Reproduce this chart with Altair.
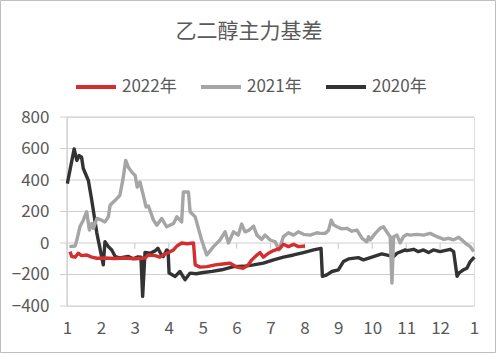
import altair as alt
import pandas as pd

# ---- data (month position, basis value) ----
m2020 = [1.01, 1.21, 1.29, 1.36, 1.43, 1.48, 1.63, 1.73, 1.88, 2.07, 2.12, 2.22, 2.32, 2.42,
         2.56, 2.80, 2.95, 3.09, 3.18, 3.23, 3.30, 3.45, 3.60, 3.68, 3.77, 3.84, 3.94, 3.98,
         4.01, 4.19, 4.33, 4.48, 4.63, 4.81, 5.02, 5.28, 5.56, 5.91, 6.20, 6.50, 6.79, 7.09,
         7.38, 7.68, 7.97, 8.27, 8.49, 8.53, 8.66, 8.81, 9.00, 9.15, 9.30, 9.59, 9.74, 9.99,
         10.28, 10.41, 10.63, 10.73, 10.97, 11.02, 11.22, 11.36, 11.51, 11.66, 11.80, 12.00,
         12.30, 12.40, 12.50, 12.56, 12.69, 12.79, 12.89, 13.01]
v2020 = [377, 597, 524, 555, 545, 473, 397, 271, 63, -139, 8, -23, -44, -86,
         -95, -85, -100, -88, -90, -339, -60, -65, -50, -33, -70, -86, -44, -50,
         -191, -212, -181, -233, -191, -195, -187, -180, -170, -150, -148, -139, -128, -107,
         -90, -76, -61, -44, -34, -212, -202, -181, -170, -118, -101, -93, -107, -90,
         -69, -75, -86, -65, -44, -48, -40, -55, -44, -61, -44, -55,
         -40, -55, -212, -190, -170, -160, -118, -90]

m2021 = [1.07, 1.24, 1.29, 1.38, 1.48, 1.58, 1.66, 1.73, 1.78, 1.88, 2.02, 2.12, 2.22, 2.27,
         2.42, 2.56, 2.66, 2.73, 2.81, 2.91, 3.01, 3.07, 3.15, 3.25, 3.33, 3.40, 3.55, 3.65,
         3.79, 3.94, 4.14, 4.24, 4.38, 4.43, 4.58, 4.63, 4.78, 4.97, 5.12, 5.32, 5.51, 5.66,
         5.76, 5.91, 6.05, 6.15, 6.25, 6.37, 6.50, 6.60, 6.74, 6.84, 6.99, 7.14, 7.25, 7.38,
         7.53, 7.68, 7.82, 7.97, 8.17, 8.37, 8.46, 8.61, 8.71, 8.79, 8.86, 8.96, 9.10, 9.25,
         9.40, 9.55, 9.70, 9.84, 9.89, 9.94, 10.09, 10.23, 10.33, 10.43, 10.53, 10.58, 10.63,
         10.73, 10.82, 10.92, 11.02, 11.12, 11.32, 11.51, 11.71, 11.91, 12.11, 12.25, 12.40,
         12.55, 12.64, 12.74, 12.89, 12.99]
v2021 = [-23, -19, 19, 103, 145, 198, 82, 124, 93, 156, 145, 134, 166, 240,
         271, 303, 418, 524, 481, 450, 429, 355, 387, 303, 229, 235, 145, 113,
         156, 103, 124, 166, 134, 324, 324, 198, 166, 19, -76, -23, 19, 71,
         0, 71, 50, 120, 71, 82, 107, 50, 23, 50, 19, 8, -44, 40,
         65, 50, 71, 55, 50, 65, 61, 61, 80, 145, 115, 103, 90, 93,
         75, 82, 29, 8, 40, 20, 61, 93, 103, 70, 40, -254, 40,
         50, 0, 40, 55, 50, 55, 50, 61, 40, 23, 30, 20,
         36, 20, 0, -23, -55]

m2022 = [1.09, 1.14, 1.24, 1.33, 1.43, 1.58, 1.73, 1.88, 2.12, 2.42, 2.71, 3.01, 3.30, 3.40,
         3.60, 3.74, 3.89, 3.99, 4.14, 4.24, 4.38, 4.54, 4.73, 4.78, 4.92, 5.13, 5.37, 5.66,
         5.81, 6.01, 6.20, 6.34, 6.45, 6.60, 6.69, 6.79, 6.94, 7.09, 7.28, 7.38, 7.53, 7.68,
         7.82, 8.02]
v2022 = [-55, -86, -90, -65, -80, -76, -90, -97, -95, -98, -95, -100, -95, -76,
         -80, -90, -70, -61, -44, -19, 0, -5, 0, -139, -153, -150, -139, -132,
         -128, -153, -160, -140, -107, -76, -61, -90, -65, -48, -34, -8, -23, -8,
         -23, -19]

title_text = "乙二醇主力基差"
series_names = ["2022年", "2021年", "2020年"]
series_colors = ["#d32f2f", "#a5a5a5", "#333333"]
y_ticks = [-400, -200, 0, 200, 400, 600, 800]
month_ticks = list(range(1, 14))

frames = []
for name, ms, vs in [("2022年", m2022, v2022), ("2021年", m2021, v2021), ("2020年", m2020, v2020)]:
    frames.append(pd.DataFrame({"m": ms, "v": vs, "series": name}))
df = pd.concat(frames, ignore_index=True)

FONT = "Noto Sans CJK SC"
GRID = "#cfcfcf"
TXT = "#595959"

label_expr = "datum.value == 13 ? '1' : format(datum.value, 'd')"

x_scale = alt.Scale(domain=[1, 13], nice=False, zero=False)
y_scale = alt.Scale(domain=[-400, 800], nice=False)
x_axis = alt.Axis(values=month_ticks, labelExpr=label_expr, title=None, grid=False,
                  domain=False, ticks=False, labelPadding=14, labelFontSize=17,
                  labelColor=TXT, labelFont=FONT, labelOverlap=False, labelFlush=False)
y_axis = alt.Axis(values=y_ticks, title=None, grid=False, domain=False, ticks=False,
                  labelPadding=18, labelFontSize=17, labelColor=TXT, labelFont=FONT,
                  labelOverlap=False, labelFlush=False)

x_enc = alt.X("m:Q", scale=x_scale, axis=x_axis)
y_enc = alt.Y("v:Q", scale=y_scale, axis=y_axis)

color_enc = alt.Color("series:N",
                      scale=alt.Scale(domain=series_names, range=series_colors),
                      legend=alt.Legend(orient="none", legendX=7, legendY=-52,
                                        direction="horizontal", title=None,
                                        symbolType="stroke", symbolSize=1600,
                                        symbolStrokeWidth=4, labelFontSize=17,
                                        labelColor=TXT, labelFont=FONT, labelOffset=4,
                                        columnPadding=16))

def line_layer(name):
    return alt.Chart(df).transform_filter(alt.datum.series == name).mark_line(
        strokeWidth=3.4, strokeJoin="round"
    ).encode(x=x_enc, y=y_enc, color=color_enc, order="m:Q")

# horizontal gridlines (with the short left tick marks)
grid_df = pd.DataFrame({"v": y_ticks})
grid = alt.Chart(grid_df).mark_rule(color=GRID, strokeWidth=1.2).encode(
    y=y_enc, x=alt.value(-7), x2=alt.value(407)
)

# left axis line
domain_df = pd.DataFrame({"m": [1], "v": [800], "v2": [-400]})
domain = alt.Chart(domain_df).mark_rule(color=GRID, strokeWidth=1.2).encode(
    x=x_enc, y=y_enc, y2="v2:Q"
)

# month tick marks on the zero line
ticks_df = pd.DataFrame({"m": month_ticks, "v": [0] * len(month_ticks),
                         "v2": [-36] * len(month_ticks)})
zero_ticks = alt.Chart(ticks_df).mark_rule(color=GRID, strokeWidth=1.2).encode(
    x=x_enc, y=y_enc, y2="v2:Q"
)

border = alt.Chart(pd.DataFrame({"a": [0]})).mark_rect(
    fillOpacity=0, stroke="#bfbfbf", strokeWidth=1
).encode(x=alt.value(-66.5), x2=alt.value(428.5), y=alt.value(-116.5), y2=alt.value(235.5))

title_mark = alt.Chart(pd.DataFrame({"t": [title_text]})).mark_text(
    font=FONT, fontSize=21, color=TXT, align="center", baseline="middle"
).encode(text="t:N", x=alt.value(182), y=alt.value(-85))

chart = alt.layer(
    grid,
    domain,
    zero_ticks,
    line_layer("2020年"),
    line_layer("2021年"),
    line_layer("2022年"),
    border,
    title_mark,
).properties(
    width=407, height=189,
    autosize=alt.AutoSizeParams(type="none"),
    padding={"left": 67, "top": 117, "right": 24, "bottom": 50},
).configure_view(stroke=None).configure(background="white")

chart.save("out.html", embed_options={"renderer": "svg", "actions": False})
